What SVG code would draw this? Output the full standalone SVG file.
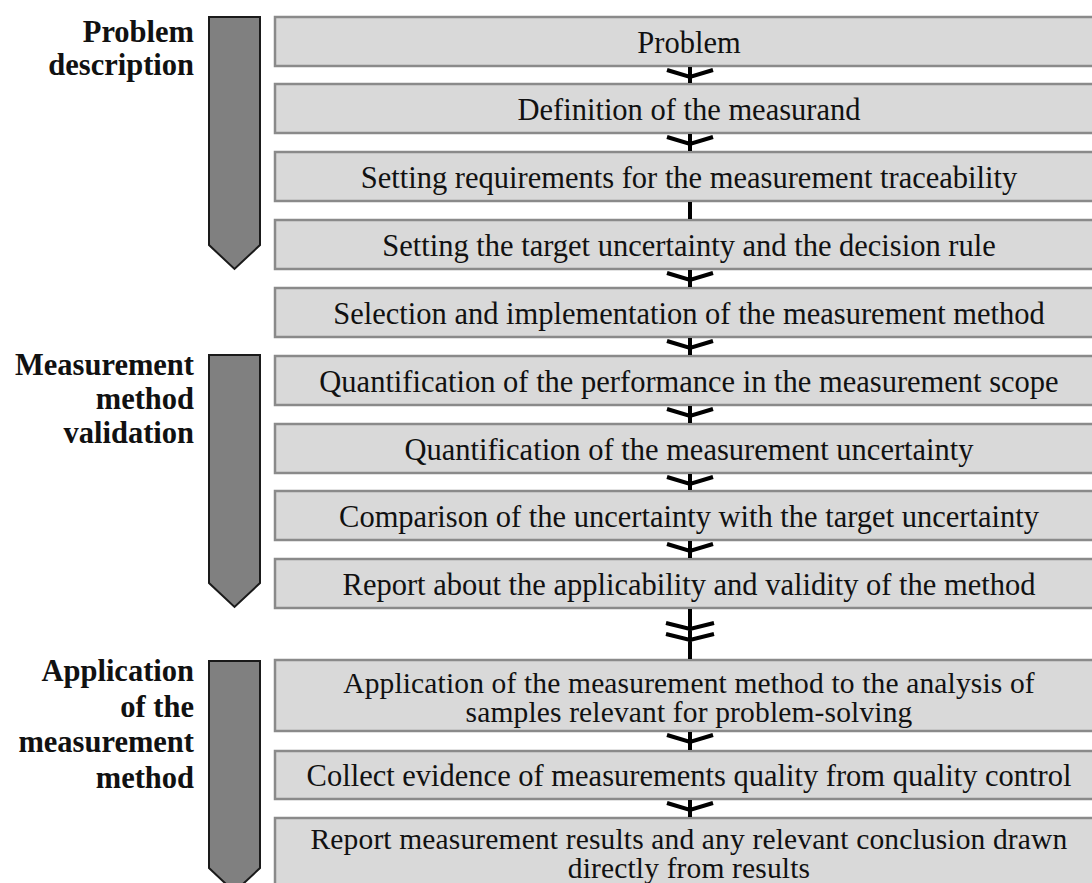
<svg xmlns="http://www.w3.org/2000/svg" width="1092" height="883" viewBox="0 0 1092 883">
<defs>
<style>
.box{fill:#d9d9d9;stroke:#8a8a8a;stroke-width:2.5}
.bt{font-family:"Liberation Serif","Times New Roman",serif;font-size:30.5px;fill:#111;text-anchor:middle}
.bt2{font-family:"Liberation Serif","Times New Roman",serif;font-size:29.5px;fill:#111;text-anchor:middle;letter-spacing:0.15px}
.lab{font-family:"Liberation Serif","Times New Roman",serif;font-size:30.5px;font-weight:bold;fill:#111;text-anchor:end}
.arr{fill:#808080;stroke:#1a1a1a;stroke-width:2}
.con{stroke:#000;stroke-width:4;fill:none}
</style>
</defs>
<rect width="1092" height="883" fill="#fff"/>
<g id="phase1">
<polygon class="arr" points="209,17 260,17 260,245 234.5,269 209,245"/>
<text class="lab" x="194" y="42">Problem</text>
<text class="lab" x="194" y="75">description</text>
</g>
<g id="phase2">
<polygon class="arr" points="209,355 260,355 260,583 234.5,607 209,583"/>
<text class="lab" x="194" y="375">Measurement</text>
<text class="lab" x="194" y="409">method</text>
<text class="lab" x="194" y="443">validation</text>
</g>
<g id="phase3">
<polygon class="arr" points="209,661 260,661 260,868 234.5,892 209,868"/>
<text class="lab" x="194" y="681">Application</text>
<text class="lab" x="194" y="717">of the</text>
<text class="lab" x="194" y="752">measurement</text>
<text class="lab" x="194" y="788">method</text>
</g>
<g id="n1"><rect class="box" x="275" y="17" width="830" height="49"/><text class="bt" x="689" y="53">Problem</text></g>
<g id="n2"><rect class="box" x="275" y="84" width="830" height="49"/><text class="bt" x="689" y="120">Definition of the measurand</text></g>
<g id="n3"><rect class="box" x="275" y="152" width="830" height="49"/><text class="bt" x="689" y="188">Setting requirements for the measurement traceability</text></g>
<g id="n4"><rect class="box" x="275" y="220" width="830" height="49"/><text class="bt" x="689" y="256">Setting the target uncertainty and the decision rule</text></g>
<g id="n5"><rect class="box" x="275" y="288" width="830" height="49"/><text class="bt" x="689" y="324">Selection and implementation of the measurement method</text></g>
<g id="n6"><rect class="box" x="275" y="356" width="830" height="49"/><text class="bt" x="689" y="392">Quantification of the performance in the measurement scope</text></g>
<g id="n7"><rect class="box" x="275" y="424" width="830" height="49"/><text class="bt" x="689" y="460">Quantification of the measurement uncertainty</text></g>
<g id="n8"><rect class="box" x="275" y="491" width="830" height="49"/><text class="bt" x="689" y="527">Comparison of the uncertainty with the target uncertainty</text></g>
<g id="n9"><rect class="box" x="275" y="559" width="830" height="49"/><text class="bt" x="689" y="595">Report about the applicability and validity of the method</text></g>
<g id="n10"><rect class="box" x="275" y="660" width="830" height="71"/><text class="bt2" x="689" y="693">Application of the measurement method to the analysis of</text><text class="bt2" x="689" y="722">samples relevant for problem-solving</text></g>
<g id="n11"><rect class="box" x="275" y="751" width="830" height="48"/><text class="bt" x="689" y="786">Collect evidence of measurements quality from quality control</text></g>
<g id="n12"><rect class="box" x="275" y="818" width="830" height="90"/><text class="bt2" x="689" y="849">Report measurement results and any relevant conclusion drawn</text><text class="bt2" x="689" y="878">directly from results</text></g>
<g id="connectors">
<path class="con" d="M690,67 V83 M667,70 L690,77 L713,70"/>
<path class="con" d="M690,134 V151 M667,137 L690,144 L713,137"/>
<path class="con" d="M690,202 V219"/>
<path class="con" d="M690,270 V287 M667,273 L690,280 L713,273"/>
<path class="con" d="M690,338 V355 M667,341 L690,348 L713,341"/>
<path class="con" d="M690,406 V423 M667,409 L690,416 L713,409"/>
<path class="con" d="M690,474 V490 M667,477 L690,484 L713,477"/>
<path class="con" d="M690,541 V558 M667,544 L690,551 L713,544"/>
<path class="con" d="M690,609 V659 M666,623 L690,629 L714,623 M666,634 L690,640 L714,634"/>
<path class="con" d="M690,732 V750 M667,735 L690,742 L713,735"/>
<path class="con" d="M690,800 V817 M667,803 L690,810 L713,803"/>
</g>
</svg>
